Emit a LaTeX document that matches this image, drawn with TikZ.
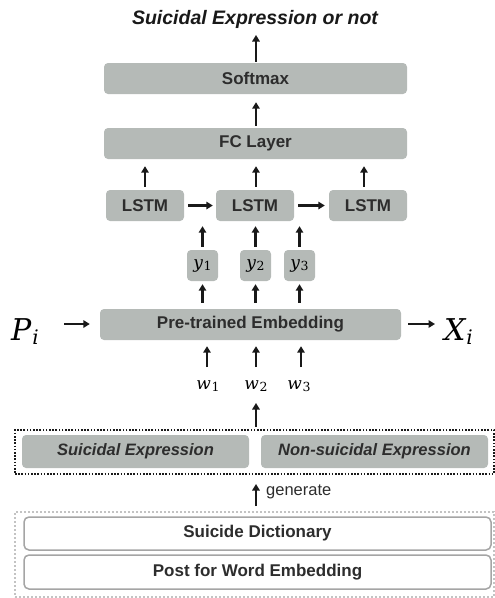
\documentclass[tikz,border=0pt]{standalone}
\usepackage{fontspec}
\setmainfont{Liberation Sans}
\newfontfamily\symserif{DejaVu Serif}
\usetikzlibrary{arrows.meta}
\definecolor{boxgray}{RGB}{181,186,183}
\definecolor{txtdark}{RGB}{45,45,45}
\definecolor{arrdark}{RGB}{25,25,25}
\definecolor{dotgray}{RGB}{195,195,195}
\definecolor{bordergray}{RGB}{165,165,165}
% #1 main size, #2 sub size, #3 letter, #4 subscript, #5 drop
\newcommand\symlab[5]{{\symserif\mdseries\fontsize{#1}{#1}\selectfont\itshape #3\kern0.03em\fontsize{#2}{#2}\selectfont\raisebox{-#5}{#4}}}
\tikzset{
  gbox/.style={fill=boxgray, rounded corners=4pt, inner sep=0pt, text=txtdark,
    font=\fontsize{17}{19}\selectfont\bfseries},
  wbox/.style={fill=white, draw=bordergray, line width=1.5pt, rounded corners=5pt, inner sep=0pt,
    text=txtdark, font=\fontsize{17}{19}\selectfont\bfseries},
  arr/.style={draw=arrdark, line width=2.4pt, -{Triangle[length=6.5pt,width=7.5pt]}},
  mlab/.style={inner sep=0pt, text=black},
}
\begin{document}
\begin{tikzpicture}[x=1pt,y=-1pt]
\useasboundingbox (0,0) rectangle (495,598);
% title
\node[inner sep=0pt, text=arrdark, font=\fontsize{19.5}{22}\selectfont\bfseries\itshape] (title) at (255,19) {Suicidal Expression or not};
\coordinate (ttip) at (256,35);
% boxes
\node[gbox, minimum width=303, minimum height=31] (soft) at (255.5,78.5) {Softmax};
\node[gbox, minimum width=303, minimum height=31] (fc) at (255.5,143.5) {FC Layer};
\node[gbox, minimum width=78, minimum height=31] (l1) at (145,205.5) {LSTM};
\node[gbox, minimum width=78, minimum height=31] (l2) at (255,205.5) {LSTM};
\node[gbox, minimum width=78, minimum height=31] (l3) at (368,205.5) {LSTM};
\node[gbox, minimum width=31, minimum height=31, text=black, font=\normalfont] (y1) at (202.5,265.5) {\symlab{17}{12.5}{y}{\upshape 1}{2.5pt}};
\node[gbox, minimum width=31, minimum height=31, text=black, font=\normalfont] (y2) at (255.5,265.5) {\symlab{17}{12.5}{y}{\upshape 2}{2.5pt}};
\node[gbox, minimum width=31, minimum height=31, text=black, font=\normalfont] (y3) at (299.5,265.5) {\symlab{17}{12.5}{y}{\upshape 3}{2.5pt}};
\node[gbox, minimum width=301, minimum height=31] (emb) at (250.5,324.5) {Pre-trained Embedding};
\node[mlab, anchor=base west] (pi) at (11,340) {\symlab{30}{20}{P}{i}{4pt}};
\node[mlab, anchor=base west] (xi) at (444,340) {\symlab{30}{20}{X}{i}{4pt}};
\node[mlab, anchor=base] (w1) at (208,389) {\symlab{17}{12.5}{w}{\upshape 1}{2.5pt}};
\node[mlab, anchor=base] (w2) at (256,389) {\symlab{17}{12.5}{w}{\upshape 2}{2.5pt}};
\node[mlab, anchor=base] (w3) at (299,389) {\symlab{17}{12.5}{w}{\upshape 3}{2.5pt}};
% expression group
\node[draw=arrdark, line width=2pt, dash pattern=on 1.6pt off 1.6pt, minimum width=479, minimum height=44, inner sep=0pt] (grp) at (254.5,452) {};
\node[gbox, minimum width=227, minimum height=33, font=\fontsize{16.5}{18}\selectfont\bfseries\itshape] (se) at (135.5,451.5) {Suicidal Expression};
\node[gbox, minimum width=227, minimum height=33, font=\fontsize{16.5}{18}\selectfont\bfseries\itshape] (nse) at (374.5,451.5) {Non-suicidal Expression};
% source group
\node[draw=dotgray, line width=2pt, dash pattern=on 1.8pt off 2.2pt, minimum width=479, minimum height=85, inner sep=0pt] (src) at (254.5,554.5) {};
\node[wbox, minimum width=467, minimum height=33] (sd) at (257.5,533.5) {Suicide Dictionary};
\node[wbox, minimum width=467, minimum height=34] (post) at (257.5,572) {Post for Word Embedding};
\node[inner sep=0pt, anchor=west, text=txtdark, font=\fontsize{16.5}{18}\selectfont] (gen) at (266,492) {generate};
% helper coordinates
\coordinate (pa) at (64,324);
\coordinate (xa) at (435,324);
\coordinate (wa1) at (207,367);
\coordinate (wa2) at (256,367);
\coordinate (wa3) at (301,367);
\coordinate (wtop) at (256,403);
% arrows
\draw[arr, shorten <=1pt] (soft.north -| ttip) -- (ttip);
\draw[arr, shorten <=2pt, shorten >=8pt] (fc.north -| ttip) -- (soft.south -| ttip);
\draw[arr, shorten <=3pt, shorten >=7pt] (l1.north) -- (l1.north |- fc.south);
\draw[arr, shorten <=3pt, shorten >=7pt] (l2.north -| ttip) -- (ttip |- fc.south);
\draw[arr, shorten <=3pt, shorten >=7pt] ([xshift=-4pt]l3.north) -- ([xshift=-4pt]l3.north |- fc.south);
\draw[arr, shorten <=4pt, shorten >=3pt] (l1.east) -- (l2.west);
\draw[arr, shorten <=4pt, shorten >=4pt] (l2.east) -- (l3.west);
\draw[arr, shorten <=3pt, shorten >=5pt] (y1.north) -- (y1.north |- l2.south);
\draw[arr, shorten <=3pt, shorten >=5pt] (y2.north) -- (y2.north |- l2.south);
\draw[arr, shorten <=3pt, shorten >=5pt] (y3.north) -- (y3.north |- l2.south);
\draw[arr, shorten <=6pt, shorten >=3pt] (y1.south |- emb.north) -- (y1.south);
\draw[arr, shorten <=6pt, shorten >=3pt] (y2.south |- emb.north) -- (y2.south);
\draw[arr, shorten <=6pt, shorten >=3pt] (y3.south |- emb.north) -- (y3.south);
\draw[arr, shorten >=10pt] (pa) -- (pa -| emb.west);
\draw[arr, shorten <=7pt] (xa -| emb.east) -- (xa);
\draw[arr, shorten >=6pt] (wa1) -- (wa1 |- emb.south);
\draw[arr, shorten >=6pt] (wa2) -- (wa2 |- emb.south);
\draw[arr, shorten >=6pt] (wa3) -- (wa3 |- emb.south);
\draw[arr, shorten <=2pt] (wtop |- grp.north) -- (wtop);
\draw[arr, shorten <=5pt, shorten >=9pt] (wtop |- src.north) -- (wtop |- grp.south);
\end{tikzpicture}
\end{document}
